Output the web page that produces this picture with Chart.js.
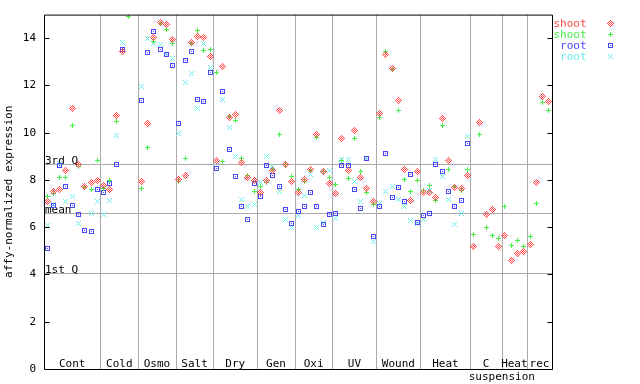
<!DOCTYPE html>
<html><head><meta charset="utf-8">
<script src="https://cdn.jsdelivr.net/npm/chart.js@4/dist/chart.umd.min.js"></script>
<style>html,body{margin:0;padding:0;background:#fff;}#wrap{width:640px;height:384px;}</style>
</head><body><div id="wrap"><canvas id="c" width="640" height="384"></canvas></div>
<script>
// ---- data ----
const categories = ["Cont","Cold","Osmo","Salt","Dry","Gen","Oxi","UV","Wound","Heat","C\nsuspension","Heat","rec"];
const groupSizes = [9,6,6,6,7,6,6,7,7,8,5,4,4];
const seriesNames = ["shoot","shoot","root","root"];
const shootA = [7.10,7.50,7.61,8.42,11.03,8.67,7.74,7.90,7.99, 7.75,7.61,10.73,13.44,null,null,
 7.95,10.40,14.03,14.65,14.57,13.94, 8.04,8.20,13.84,14.08,14.03,13.22,
 8.84,12.80,10.65,10.78,8.75,8.11,7.98, 7.49,7.99,8.42,10.94,8.67,7.94,
 7.49,8.04,8.45,9.93,8.37,7.87, 7.42,9.76,8.42,10.10,8.12,7.66,7.11,
 10.82,13.30,12.70,11.37,8.46,7.15,8.37, 7.45,7.45,7.24,10.61,8.84,7.70,7.66,8.20,
 5.17,10.44,6.56,6.73,5.17, 5.65,4.58,4.88,4.96, 5.25,7.91,11.53,11.34];
const shootB = [7.28,7.43,8.12,8.09,10.31,8.57,7.68,7.61,8.84, 7.66,7.99,10.48,null,14.94,null,
 7.66,9.36,13.86,14.62,14.36,13.79, 7.95,8.89,13.77,14.32,13.47,13.51,
 12.55,8.79,10.69,10.52,8.89,8.19,7.53, 7.74,7.91,8.44,9.93,8.64,8.16,
 7.61,7.95,8.42,9.81,8.35,8.12, 7.80,8.81,8.08,9.76,8.37,7.49,6.98,
 10.65,13.43,12.67,10.94,8.04,7.53,7.99, 7.57,7.78,7.15,10.31,8.46,7.74,7.57,8.46,
 5.69,9.93,6.01,5.63,5.51, 6.87,5.21,5.42,5.17, 5.59,7.02,11.29,10.96];
const rootA = [5.10,6.91,8.63,7.74,6.90,6.56,5.86,5.82,7.61, 7.49,7.87,8.67,13.51,null,null,
 11.37,13.39,14.27,13.51,13.30,12.84, 10.40,13.05,13.43,11.41,11.32,12.55,
 8.50,11.74,9.31,8.16,6.86,6.31,7.87, 7.28,8.63,8.20,7.74,6.73,6.14,
 6.65,6.86,7.45,6.86,6.10,6.52, 6.60,8.63,8.63,7.61,6.81,8.92,5.59,
 6.86,9.13,7.24,7.70,7.07,8.25,6.22, 6.48,6.60,8.67,8.37,7.53,6.86,7.13,9.55,
 null,null,null,null,null, null,null,null,null, null,null,null,null];
const rootB = [6.06,6.98,8.70,7.07,7.32,6.15,7.76,6.60,7.11, 6.52,7.15,9.89,13.81,null,null,
 11.95,14.00,13.77,13.72,13.32,13.13, 9.97,12.14,12.50,11.03,13.77,12.76,
 8.80,11.41,10.23,9.01,7.19,6.86,6.98, 7.91,9.01,8.58,7.53,6.31,6.01,
 6.48,7.36,8.25,6.01,6.22,8.42, 6.35,8.85,8.85,7.95,7.07,8.92,5.38,
 7.02,7.53,7.74,7.19,6.86,6.27,6.14, 6.31,7.57,8.85,8.16,7.19,6.10,6.60,9.85,
 null,null,null,null,null, null,null,null,null, null,null,null,null];
const yTickValues = [0,2,4,6,8,10,12,14];
const refLabels = ["3rd Q","mean","1st Q"];
const refValues = [8.67,6.60,4.07];
const yTitle = "affy-normalized expression";

// ---- styling ----
const FONT = '11px "DejaVu Sans Mono"';
const colors = ["#ff4848","#44ee44","#4848ff","#66eeee"];

function makeMarker(kind, color){
  const c = document.createElement('canvas'); c.width = 7; c.height = 7;
  const g = c.getContext('2d'); g.fillStyle = color;
  for (let dy=-3; dy<=3; dy++) for (let dx=-3; dx<=3; dx++){
    const ax=Math.abs(dx), ay=Math.abs(dy); let on=false;
    if (kind==='diamond') on = (ax+ay<=3) && ((ax+ay)%2===1);
    else if (kind==='plus') on = (dx===0 && ay<=2) || (dy===0 && ax<=2);
    else if (kind==='square') on = (Math.max(ax,ay)===2) || (dx===0 && dy===0);
    else if (kind==='cross') on = (ax===ay && ax<=2);
    if (on) g.fillRect(dx+3, dy+3, 1, 1);
  }
  return c;
}
const markers = [makeMarker('diamond',colors[0]),makeMarker('plus',colors[1]),makeMarker('square',colors[2]),makeMarker('cross',colors[3])];
const toPts = arr => arr.map((v,i)=>({x:i,y:v})).filter(p=>p.y!==null);
const seriesData = [shootA, shootB, rootA, rootB];

const frame = {
  id:'frame',
  beforeDatasetsDraw(chart){
    const {ctx, chartArea:a, scales:{x,y}} = chart;
    ctx.save();
    ctx.strokeStyle = '#aaaaaa'; ctx.lineWidth = 1;
    const line=(x1,y1,x2,y2)=>{ctx.beginPath();ctx.moveTo(x1,y1);ctx.lineTo(x2,y2);ctx.stroke();};
    let acc = -0.5; const centers = []; const bounds=[];
    groupSizes.forEach((n,i)=>{ centers.push(acc + n/2); acc += n; bounds.push(acc); });
    bounds.slice(0,-1).forEach(b=>{ const px=Math.round(x.getPixelForValue(b))+0.5; line(px,a.top,px,a.bottom); });
    refValues.forEach(v=>{ const py=Math.round(y.getPixelForValue(v))+0.5; line(a.left,py,a.right,py); });
    ctx.fillStyle='#000'; ctx.font=FONT; ctx.textBaseline='alphabetic';
    ctx.textAlign='left';
    refLabels.forEach((t,i)=>ctx.fillText(t, a.left+1, Math.round(y.getPixelForValue(refValues[i]))));
    ctx.textAlign='center';
    categories.forEach((t,i)=>{
      const parts=t.split('\n');
      ctx.fillText(parts[0], x.getPixelForValue(centers[i]), a.bottom-2);
      if (parts[1]) ctx.fillText(parts[1], x.getPixelForValue(bounds[i]), a.bottom+11);
    });
    ctx.restore();
    ctx.imageSmoothingEnabled = false;
  },
  afterDatasetsDraw(chart){
    const {ctx, chartArea:a, scales:{y}} = chart;
    ctx.imageSmoothingEnabled = false;
    ctx.save();
    ctx.strokeStyle='#000'; ctx.lineWidth=1;
    const line=(x1,y1,x2,y2)=>{ctx.beginPath();ctx.moveTo(x1,y1);ctx.lineTo(x2,y2);ctx.stroke();};
    const L=a.left+0.5, R=Math.round(a.right)+0.5, T=a.top+0.5, B=Math.round(a.bottom)+0.5;
    line(L,T,R,T); line(L,B,R,B); line(L,T,L,B); line(R,T,R,B);
    yTickValues.forEach(v=>{ const py=Math.round(y.getPixelForValue(v))+0.5; line(L,py,L+5,py); line(R-5,py,R,py); });
    // legend
    ctx.font=FONT; ctx.textAlign='right'; ctx.textBaseline='alphabetic';
    seriesNames.forEach((n,i)=>{
      ctx.fillStyle=colors[i];
      ctx.fillText(n, R+34, 27+11*i);
      ctx.drawImage(markers[i], Math.round(R)+54, 20+11*i);
    });
    ctx.restore();
    ctx.imageSmoothingEnabled = true;
  }
};

new Chart(document.getElementById('c').getContext('2d'), {
  type:'scatter',
  data:{ datasets: seriesData.map((arr,i)=>({
    label: seriesNames[i], data: toPts(arr), pointStyle: markers[i], pointRadius: 3, pointHoverRadius: 3,
    borderColor: colors[i], backgroundColor: colors[i]
  }))},
  options:{
    responsive:false, animation:false, devicePixelRatio:1,
    layout:{padding:{left:0, top:13, right:88, bottom:15}},
    plugins:{legend:{display:false}, tooltip:{enabled:false}},
    scales:{
      x:{type:'linear', min:-0.5, max:80.5, display:false},
      y:{type:'linear', min:0, max:15,
        afterFit(s){ s.width = 44; },
        afterBuildTicks(s){ s.ticks = yTickValues.map(v=>({value:v})); },
        grid:{display:false, drawTicks:false}, border:{display:false},
        ticks:{color:'#000', font:{family:'DejaVu Sans Mono', size:11}, padding:8},
        title:{display:true, text:yTitle, color:'#000', font:{family:'DejaVu Sans Mono', size:11}, padding:{top:3,bottom:0}}
      }
    }
  },
  plugins:[frame]
});
</script></body></html>
